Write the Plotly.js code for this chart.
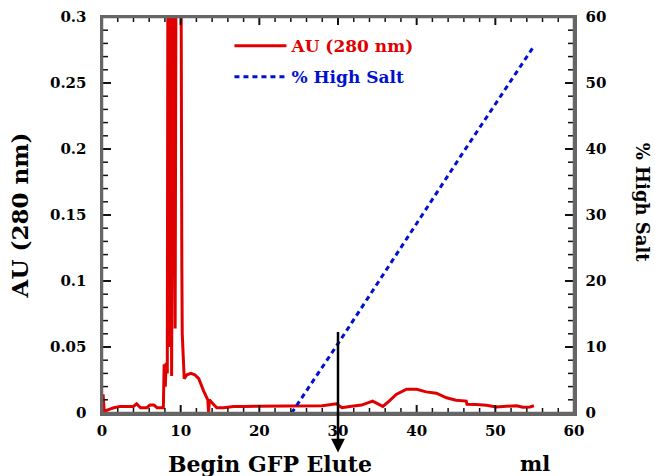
<!DOCTYPE html>
<html>
<head>
<meta charset="utf-8">
<script src="https://cdn.plot.ly/plotly-3.0.1.min.js"></script>
<style>html,body{margin:0;padding:0;background:#fff;}#chart{width:655px;height:476px;}</style>
</head>
<body>
<div id="chart"></div>
<script>
// Elution volume (ml) and absorbance at 280 nm
var volumeMl = [0, 0.15, 0.3, 0.6, 1.0, 1.5, 2.3, 3.0, 4.0, 4.4, 4.9, 5.7, 6.1, 6.6, 7.0, 7.8, 7.9, 8.05, 8.15, 8.3, 8.4, 8.55, 8.7, 8.85, 9.1, 9.3, 9.45, 10.0, 10.05, 10.15, 10.2, 10.3, 10.45, 10.8, 11.3, 11.8, 12.3, 12.9, 13.3, 13.45, 13.55, 13.65, 14.1, 14.6, 15.5, 16.7, 18, 20, 22, 24, 26, 28, 29.8, 30.5, 31.5, 33, 34.4, 35.0, 35.7, 36.5, 37.4, 38.7, 40, 41.2, 42.5, 43.8, 45, 46.3, 46.4, 47.5, 48.9, 50.1, 51.8, 52.7, 53.5, 54.4, 54.9];
var absorbance = [0.013, 0.013, 0.0, 0.002, 0.003, 0.004, 0.005, 0.005, 0.005, 0.007, 0.004, 0.004, 0.006, 0.006, 0.004, 0.004, 0.037, 0.02, 0.038, 0.03, 0.45, 0.05, 0.45, 0.028, 0.45, 0.064, 0.45, 0.45, 0.17, 0.11, 0.06, 0.04, 0.026, 0.029, 0.03, 0.029, 0.026, 0.017, 0.011, 0.01, 0.0, 0.01, 0.007, 0.004, 0.004, 0.005, 0.005, 0.005, 0.005, 0.005, 0.005, 0.0055, 0.007, 0.004, 0.005, 0.006, 0.009, 0.007, 0.005, 0.009, 0.014, 0.018, 0.018, 0.016, 0.015, 0.0115, 0.0097, 0.009, 0.0066, 0.0065, 0.0059, 0.0046, 0.005, 0.0055, 0.0043, 0.0046, 0.0055];

// Salt gradient (% High Salt)
var saltVolumeMl = [24.1, 30, 45.7, 54.8];
var saltPercent = [0, 10.5, 39.1, 55.4];

// Tick labels
var xTickVals = [0, 10, 20, 30, 40, 50, 60];
var xTickText = ['0', '10', '20', '30', '40', '50', '60'];
var yTickVals = [0, 0.05, 0.1, 0.15, 0.2, 0.25, 0.3];
var yTickText = ['0', '0.05', '0.1', '0.15', '0.2', '0.25', '0.3'];
var y2TickVals = [0, 10, 20, 30, 40, 50, 60];
var y2TickText = ['0', '10', '20', '30', '40', '50', '60'];

var FONT = 'DejaVu Serif, Liberation Serif, serif';
var RED = '#e00000';
var BLUE = '#0010d0';
var AXIS = '#666666';
var TICK = '#111111';

var traces = [
  {
    x: volumeMl, y: absorbance, type: 'scatter', mode: 'lines',
    name: '<span style="color:' + RED + '">AU (280 nm)</span>',
    line: {color: RED, width: 3}, legendgroup: 'a', xaxis: 'x', yaxis: 'y'
  },
  {
    x: saltVolumeMl, y: saltPercent, type: 'scatter', mode: 'lines',
    name: '<span style="color:' + BLUE + '">% High Salt</span>',
    line: {color: BLUE, width: 3, dash: '5px,4px'}, legendgroup: 'b', xaxis: 'x', yaxis: 'y2'
  }
];

// Inward-pointing axis ticks (major + minor) placed through the axes' own coordinates.
var shapes = [];
function isMajor(v, vals) {
  for (var i = 0; i < vals.length; i++) if (Math.abs(vals[i] - v) < 1e-9) return true;
  return false;
}
for (var i = 0; i <= 30; i++) {
  var xv = i * 2;
  var xm = isMajor(xv, xTickVals);
  var xl = xm ? 8 : 5;
  var xw = xm ? 2 : 1.5;
  shapes.push({type: 'line', xref: 'x', yref: 'paper', ysizemode: 'pixel', yanchor: 0,
    x0: xv, x1: xv, y0: 0, y1: xl, line: {color: TICK, width: xw}, layer: 'above'});
  shapes.push({type: 'line', xref: 'x', yref: 'paper', ysizemode: 'pixel', yanchor: 1,
    x0: xv, x1: xv, y0: 0, y1: -xl, line: {color: TICK, width: xw}, layer: 'above'});

  var yv = Math.round(i * 0.01 * 1000) / 1000;
  var ym = isMajor(yv, yTickVals);
  var yl = ym ? 9 : 6;
  var yw = ym ? 2 : 1.5;
  shapes.push({type: 'line', xref: 'paper', yref: 'y', xsizemode: 'pixel', xanchor: 0,
    x0: 0, x1: yl, y0: yv, y1: yv, line: {color: TICK, width: yw}, layer: 'above'});

  var y2v = i * 2;
  var y2m = isMajor(y2v, y2TickVals);
  var y2l = y2m ? 9 : 6;
  var y2w = y2m ? 2 : 1.5;
  shapes.push({type: 'line', xref: 'paper', yref: 'y2', xsizemode: 'pixel', xanchor: 1,
    x0: 0, x1: -y2l, y0: y2v, y1: y2v, line: {color: TICK, width: y2w}, layer: 'above'});
}
// Plot frame
shapes.push({type: 'rect', xref: 'paper', yref: 'paper', x0: 0, x1: 1, y0: 0, y1: 1,
  line: {color: AXIS, width: 2.5}, fillcolor: 'rgba(0,0,0,0)', layer: 'above'});

var layout = {
  width: 655, height: 476,
  margin: {l: 102, r: 81, t: 17, b: 63},
  paper_bgcolor: '#ffffff', plot_bgcolor: '#ffffff',
  font: {family: FONT, size: 15, color: '#000'},
  showlegend: true,
  legend: {
    x: 0.27, y: 0.972, xanchor: 'left', yanchor: 'top',
    bgcolor: 'rgba(0,0,0,0)', borderwidth: 0, itemwidth: 52,
    font: {family: FONT, size: 17, weight: 'bold'},
    tracegroupgap: 6, traceorder: 'grouped'
  },
  xaxis: {
    range: [0, 60], tickmode: 'array', tickvals: xTickVals, ticktext: xTickText,
    showline: true, linecolor: AXIS, linewidth: 2.5, mirror: true,
    ticks: '', showgrid: false, zeroline: false,
    tickfont: {family: FONT, size: 15, weight: 'bold'}, ticklabelstandoff: 2
  },
  yaxis: {
    range: [0, 0.3], tickmode: 'array', tickvals: yTickVals, ticktext: yTickText,
    showline: true, linecolor: AXIS, linewidth: 2.5,
    ticks: '', showgrid: false, zeroline: false,
    tickfont: {family: FONT, size: 15, weight: 'bold'}, ticklabelstandoff: 10
  },
  yaxis2: {
    range: [0, 60], tickmode: 'array', tickvals: y2TickVals, ticktext: y2TickText,
    overlaying: 'y', side: 'right', anchor: 'x',
    showline: true, linecolor: AXIS, linewidth: 2.5,
    ticks: '', showgrid: false, zeroline: false,
    tickfont: {family: FONT, size: 15, weight: 'bold'}, ticklabelstandoff: 6
  },
  shapes: shapes,
  annotations: [
    {
      text: 'AU (280 nm)', xref: 'paper', yref: 'paper', x: -0.175, y: 0.5,
      textangle: -90, showarrow: false, xanchor: 'center', yanchor: 'middle',
      font: {family: FONT, size: 23, weight: 'bold', color: '#000'}
    },
    {
      text: '% High Salt', xref: 'paper', yref: 'paper', x: 1.145, y: 0.53,
      textangle: 90, showarrow: false, xanchor: 'center', yanchor: 'middle',
      font: {family: FONT, size: 18, weight: 'bold', color: '#000'}
    },
    {
      text: 'Begin GFP Elute', xref: 'paper', yref: 'paper', x: 0.355, y: -0.128,
      showarrow: false, xanchor: 'center', yanchor: 'middle',
      font: {family: FONT, size: 22, weight: 'bold', color: '#000'}
    },
    {
      text: 'ml', xref: 'paper', yref: 'paper', x: 0.918, y: -0.128,
      showarrow: false, xanchor: 'center', yanchor: 'middle',
      font: {family: FONT, size: 21, weight: 'bold', color: '#000'}
    },
    {
      text: '', x: 30, xref: 'x', y: -0.1, yref: 'paper',
      showarrow: true, ax: 0, ay: -122, axref: 'pixel', ayref: 'pixel',
      arrowhead: 2, arrowsize: 1.1, arrowwidth: 2.5, arrowcolor: '#000'
    }
  ]
};

Plotly.newPlot('chart', traces, layout, {displayModeBar: false, staticPlot: true});
</script>
</body>
</html>
